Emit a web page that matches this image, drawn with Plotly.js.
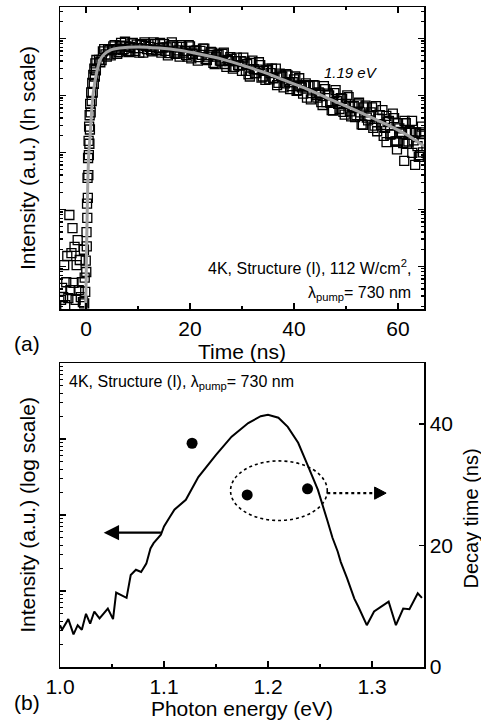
<!DOCTYPE html>
<html>
<head>
<meta charset="utf-8">
<script src="https://cdn.plot.ly/plotly-3.0.1.min.js"></script>
<style>html,body{margin:0;padding:0;background:#fff;}#chart{width:481px;height:720px;}</style>
</head>
<body>
<div id="chart"></div>
<script>
// ---------- Panel (a): time-resolved PL at 1.19 eV ----------
const timeNs = [
 -4.8,-4.6,-4.4,-4.2,-4.0,-3.8,-3.6,-3.4,-3.2,-3.0,-2.8,-2.6,-2.4,-2.2,-2.0,-1.8,-1.6,-1.4,-1.2,-1.0,-0.8,-0.6,-0.4,
 -0.35,-0.25,-0.15,-0.05,0.05,0.10,0.15,0.20,0.25,0.30,0.35,0.40,0.45,0.50,0.55,0.60,0.65,0.70,0.75,0.80,0.90,1.00,1.10,1.20,1.30,1.40,1.50,1.60,1.70,1.80,1.90,2.00,
 2.5,3.0,3.5,4.0,4.5,5.0,5.5,6.0,6.5,7.0,7.5,8.0,8.5,9.0,9.5,10.0,10.5,11.0,11.5,12.0,12.5,13.0,13.5,14.0,14.5,
 15.0,15.5,16.0,16.5,17.0,17.5,18.0,18.5,19.0,19.5,20.0,20.5,21.0,21.5,22.0,22.5,23.0,23.5,24.0,24.5,25.0,25.5,26.0,26.5,27.0,27.5,28.0,28.5,29.0,29.5,
 30.0,30.5,31.0,31.5,32.0,32.5,33.0,33.5,34.0,34.5,35.0,35.5,36.0,36.5,37.0,37.5,38.0,38.5,39.0,39.5,40.0,40.5,41.0,41.5,42.0,42.5,43.0,43.5,44.0,44.5,
 45.0,45.5,46.0,46.5,47.0,47.5,48.0,48.5,49.0,49.5,50.0,50.5,51.0,51.5,52.0,52.5,53.0,53.5,54.0,54.5,
 55.0,55.5,56.0,56.5,57.0,57.5,57.8,58.0,58.5,59.0,59.5,59.8,60.0,60.5,61.0,61.2,61.5,62.0,62.5,62.7,63.0,63.3,63.5,64.0,64.2,64.5,64.6,64.8
];
// log10 of PL counts (a.u.)
const logCounts = [
 0.41,0.62,0.46,1.02,0.32,0.72,1.18,0.44,1.90,0.58,1.23,1.67,0.71,1.34,0.41,1.02,1.46,0.58,1.11,0.46,0.72,0.37,1.29,
 0.35,0.80,0.55,1.10,0.90,1.60,1.35,2.10,1.85,2.55,2.20,2.90,2.60,3.20,2.95,3.45,3.15,3.65,3.40,3.85,3.70,4.05,3.90,4.22,4.05,4.36,4.20,4.47,4.33,4.56,4.44,4.62,
 4.62,4.62,4.81,4.68,4.80,4.79,4.88,4.73,4.87,4.80,4.94,4.78,4.85,4.92,4.78,4.83,4.90,4.75,4.87,4.90,4.79,4.93,4.80,4.83,4.75,
 4.90,4.84,4.74,4.93,4.75,4.85,4.68,4.85,4.78,4.68,4.86,4.73,4.78,4.61,4.78,4.82,4.64,4.68,4.76,4.57,4.68,4.72,4.60,4.75,4.50,4.60,4.64,4.50,4.66,4.52,
 4.43,4.59,4.55,4.33,4.61,4.39,4.45,4.53,4.33,4.27,4.47,4.39,4.30,4.47,4.22,4.35,4.14,4.37,4.23,4.16,4.28,4.08,4.30,4.14,4.18,3.96,4.18,4.04,4.17,3.96,
 4.03,3.83,4.11,4.03,3.87,3.73,4.09,3.85,3.95,3.71,3.85,3.97,3.63,3.81,3.65,3.87,3.49,3.79,3.61,3.64,
 3.79,3.47,3.37,3.65,3.74,3.43,3.18,3.53,3.31,3.68,3.19,3.05,3.51,3.36,3.16,2.85,3.51,3.19,3.34,3.55,3.21,2.78,3.35,2.92,2.95,3.32,3.45,3.00
];
// interleaved second half of the decay record
const timeNs2 = [
 2.75,3.25,3.75,4.25,4.75,5.25,5.75,6.25,6.75,7.25,7.75,8.25,8.75,9.25,9.75,10.25,10.75,11.25,11.75,12.25,12.75,13.25,13.75,14.25,14.75,
 15.25,15.75,16.25,16.75,17.25,17.75,18.25,18.75,19.25,19.75,20.25,20.75,21.25,21.75,22.25,22.75,23.25,23.75,24.25,24.75,25.25,25.75,26.25,26.75,27.25,27.75,28.25,28.75,29.25,29.75,
 30.25,30.75,31.25,31.75,32.25,32.75,33.25,33.75,34.25,34.75,35.25,35.75,36.25,36.75,37.25,37.75,38.25,38.75,39.25,39.75,40.25,40.75,41.25,41.75,42.25,42.75,43.25,43.75,44.25,44.75,
 45.25,45.75,46.25,46.75,47.25,47.75,48.25,48.75,49.25,49.75,50.25,50.75,51.25,51.75,52.25,52.75,53.25,53.75,54.25,54.75,
 55.25,55.75,56.25,56.75,57.25,57.75,58.25,58.75,59.25,59.75,60.25,60.75,61.25,61.75,62.25,62.75,63.25,63.75,64.25
];
const logCounts2 = [
 4.58,4.77,4.72,4.81,4.70,4.86,4.81,4.76,4.92,4.81,4.86,4.76,4.91,4.83,4.89,4.75,4.88,4.93,4.81,4.85,4.77,4.90,4.79,4.92,4.84,
 4.78,4.70,4.86,4.88,4.73,4.79,4.88,4.75,4.71,4.88,4.65,4.78,4.79,4.67,4.71,4.82,4.62,4.71,4.75,4.55,4.71,4.61,4.73,4.55,4.62,4.67,4.47,4.60,4.53,4.60,
 4.66,4.43,4.37,4.57,4.46,4.39,4.58,4.31,4.43,4.44,4.28,4.47,4.31,4.18,4.38,4.33,4.21,4.35,4.11,4.23,4.33,4.09,4.16,4.03,4.21,4.16,3.93,4.18,4.01,4.05,
 3.88,4.16,3.88,4.00,3.74,4.04,3.90,3.76,3.94,3.66,4.00,3.72,3.80,3.62,3.84,3.70,3.48,3.82,3.56,3.70,
 3.43,3.81,3.59,3.48,3.29,3.64,3.55,3.32,3.60,3.19,3.42,3.33,3.55,3.15,3.37,2.99,3.34,3.11,3.35
];
// fitted curve (grey line)
const fitTimeNs = [-0.1,0.15,0.35,0.55,0.8,1.1,1.4,2.0,2.7,3.5,4.6,6.5,10,14,18,22,26,30,34,38,42,46,50,54,58,62,65];
const fitLogCounts = [0.0,1.5,2.5,3.0,3.3,3.74,4.04,4.38,4.62,4.72,4.79,4.83,4.85,4.83,4.79,4.72,4.64,4.53,4.41,4.27,4.13,3.97,3.81,3.65,3.48,3.29,3.11];
const timeTicks = [0,20,40,60];

// ---------- Panel (b): PL spectrum and decay times ----------
const photonEnergy = [1.000,1.002,1.008,1.013,1.017,1.021,1.025,1.029,1.033,1.038,1.046,1.051,1.054,1.064,1.068,1.073,1.078,1.083,1.087,1.090,
 1.097,1.100,1.105,1.110,1.121,1.133,1.150,1.165,1.181,1.193,1.200,1.210,1.219,1.229,1.238,1.248,1.257,1.262,1.267,1.270,
 1.276,1.283,1.287,1.295,1.302,1.308,1.316,1.323,1.330,1.336,1.344,1.348];
const logPL = [0.55,0.49,0.63,0.43,0.55,0.49,0.70,0.57,0.73,0.64,0.77,0.63,0.98,0.91,1.21,1.28,1.25,1.36,1.56,1.63,
 1.74,1.85,1.96,2.07,2.20,2.50,2.79,3.03,3.21,3.30,3.32,3.28,3.16,2.95,2.66,2.33,1.93,1.70,1.52,1.38,
 1.17,0.90,0.79,0.55,0.73,0.79,0.86,0.55,0.77,0.76,0.97,0.91];
const decayEnergy = [1.127,1.180,1.238];
const decayTimeNs = [36.8,28.3,29.3];
const energyTicks = [1.0,1.1,1.2,1.3];
const energyTickText = ['1.0','1.1','1.2','1.3'];
const decayTicks = [0,20,40];

const toCounts = a => a.map(v => Math.pow(10, v));

const BLACK = '#000';
const SANS = '"Liberation Sans", Arial, sans-serif';

const squareMarker = {symbol: 'square-open', size: 9, color: BLACK, line: {width: 1.3, color: BLACK}};

const traces = [
  {x: timeNs, y: toCounts(logCounts), type: 'scatter', mode: 'markers', xaxis: 'x', yaxis: 'y',
   marker: squareMarker, hoverinfo: 'skip'},
  {x: timeNs2, y: toCounts(logCounts2), type: 'scatter', mode: 'markers', xaxis: 'x', yaxis: 'y',
   marker: squareMarker, hoverinfo: 'skip'},
  {x: fitTimeNs, y: toCounts(fitLogCounts), type: 'scatter', mode: 'lines', xaxis: 'x', yaxis: 'y',
   line: {color: '#a2a2a2', width: 3, shape: 'spline', smoothing: 0.6}, hoverinfo: 'skip'},
  {x: photonEnergy, y: toCounts(logPL), type: 'scatter', mode: 'lines', xaxis: 'x2', yaxis: 'y2',
   line: {color: BLACK, width: 2}, hoverinfo: 'skip'},
  {x: decayEnergy, y: decayTimeNs, type: 'scatter', mode: 'markers', xaxis: 'x2', yaxis: 'y3',
   marker: {symbol: 'circle', size: 11, color: BLACK}, hoverinfo: 'skip'}
];

const axBase = {showgrid: false, zeroline: false, showline: true, linecolor: BLACK, linewidth: 1.5,
  ticks: 'inside', tickcolor: BLACK, tickwidth: 1.5, automargin: false};

const txt = (size) => ({family: SANS, size: size, color: BLACK});

const layout = {
  width: 481, height: 720,
  margin: {l: 60, r: 57, t: 7, b: 53},
  paper_bgcolor: '#fff', plot_bgcolor: '#fff',
  showlegend: false,
  font: txt(21),
  xaxis: Object.assign({}, axBase, {
    domain: [0, 1], anchor: 'y', range: [-5, 65], tickvals: timeTicks, ticklen: 6,
    minor: {ticks: 'inside', ticklen: 3, dtick: 10, tick0: 0, tickcolor: BLACK, tickwidth: 1.2},
    mirror: 'ticks', tickfont: txt(21),
    title: {text: 'Time (ns)', font: txt(21), standoff: 0}
  }),
  yaxis: Object.assign({}, axBase, {
    domain: [0.5424, 1], anchor: 'x', type: 'log', range: [0.25, 5.55], dtick: 1, ticklen: 6,
    showticklabels: false, mirror: 'ticks',
    minor: {ticks: 'inside', ticklen: 3, dtick: 'D1', tickcolor: BLACK, tickwidth: 1.2},
    title: {text: 'Intensity (a.u.) (ln scale)', font: txt(21), standoff: 17}
  }),
  xaxis2: Object.assign({}, axBase, {
    domain: [0, 1], anchor: 'y2', range: [1.0, 1.35], tickvals: energyTicks, ticktext: energyTickText, ticklen: 6,
    minor: {ticks: 'inside', ticklen: 3, dtick: 0.05, tick0: 1.0, tickcolor: BLACK, tickwidth: 1.2},
    mirror: true, tickfont: txt(21),
    title: {text: 'Photon energy (eV)', font: txt(21), standoff: 0}
  }),
  yaxis2: Object.assign({}, axBase, {
    domain: [0, 0.4606], anchor: 'x2', type: 'log', range: [0, 4], dtick: 1, ticklen: 6,
    showticklabels: false,
    minor: {ticks: 'inside', ticklen: 3, dtick: 'D1', tickcolor: BLACK, tickwidth: 1.2},
    title: {text: 'Intensity (a.u.) (log scale)', font: txt(21), standoff: 17}
  }),
  yaxis3: Object.assign({}, axBase, {
    overlaying: 'y2', anchor: 'x2', side: 'right', range: [0, 50], tickvals: decayTicks, ticklen: 5,
    tickfont: txt(21)
  }),
  shapes: [
    {type: 'circle', xref: 'x2', yref: 'y3', x0: 1.164, x1: 1.257, y0: 24.1, y1: 33.9,
     line: {color: BLACK, width: 1.6, dash: 'dot'}},
    {type: 'line', xref: 'x2', yref: 'y3', x0: 1.257, x1: 1.304, y0: 28.6, y1: 28.6,
     line: {color: BLACK, width: 2.2, dash: 'dot'}},
    {type: 'path', xref: 'x2', yref: 'y3', path: 'M 1.3025,27.6 L 1.3136,28.6 L 1.3025,29.6 Z',
     fillcolor: BLACK, line: {color: BLACK, width: 1}}
  ],
  annotations: [
    {xref: 'x2', yref: 'y3', x: 1.042, y: 22.1, ax: 1.0985, ay: 22.1, axref: 'x2', ayref: 'y3',
     text: '', showarrow: true, arrowhead: 2, arrowsize: 1.4, arrowwidth: 2.2, arrowcolor: BLACK, standoff: 0},
    {xref: 'paper', yref: 'paper', x: 0.7995, y: 0.9015, text: '<i>1.19 eV</i>', showarrow: false,
     xanchor: 'center', yanchor: 'middle', font: txt(15)},
    {xref: 'paper', yref: 'paper', x: 0.9698, y: 0.606, text: '4K, Structure (I), 112 W/cm<sup>2</sup>,', showarrow: false,
     xanchor: 'right', yanchor: 'middle', font: txt(16)},
    {xref: 'paper', yref: 'paper', x: 0.9698, y: 0.566, text: 'λ<sub>pump</sub>= 730 nm', showarrow: false,
     xanchor: 'right', yanchor: 'middle', font: txt(16)},
    {xref: 'paper', yref: 'paper', x: 0.0192, y: 0.4318, text: '4K, Structure (I), λ<sub>pump</sub>= 730 nm', showarrow: false,
     xanchor: 'left', yanchor: 'middle', font: txt(16)},
    {xref: 'paper', yref: 'paper', x: -0.0907, y: 0.4909, text: '(a)', showarrow: false,
     xanchor: 'center', yanchor: 'middle', font: txt(21)},
    {xref: 'paper', yref: 'paper', x: -0.0907, y: -0.0545, text: '(b)', showarrow: false,
     xanchor: 'center', yanchor: 'middle', font: txt(21)},
    {xref: 'paper', yref: 'paper', x: 1.129, y: 0.225, text: 'Decay time (ns)', showarrow: false, textangle: -90,
     xanchor: 'center', yanchor: 'middle', font: txt(20)}
  ]
};

Plotly.newPlot('chart', traces, layout, {staticPlot: true, displayModeBar: false});
</script>
</body>
</html>
